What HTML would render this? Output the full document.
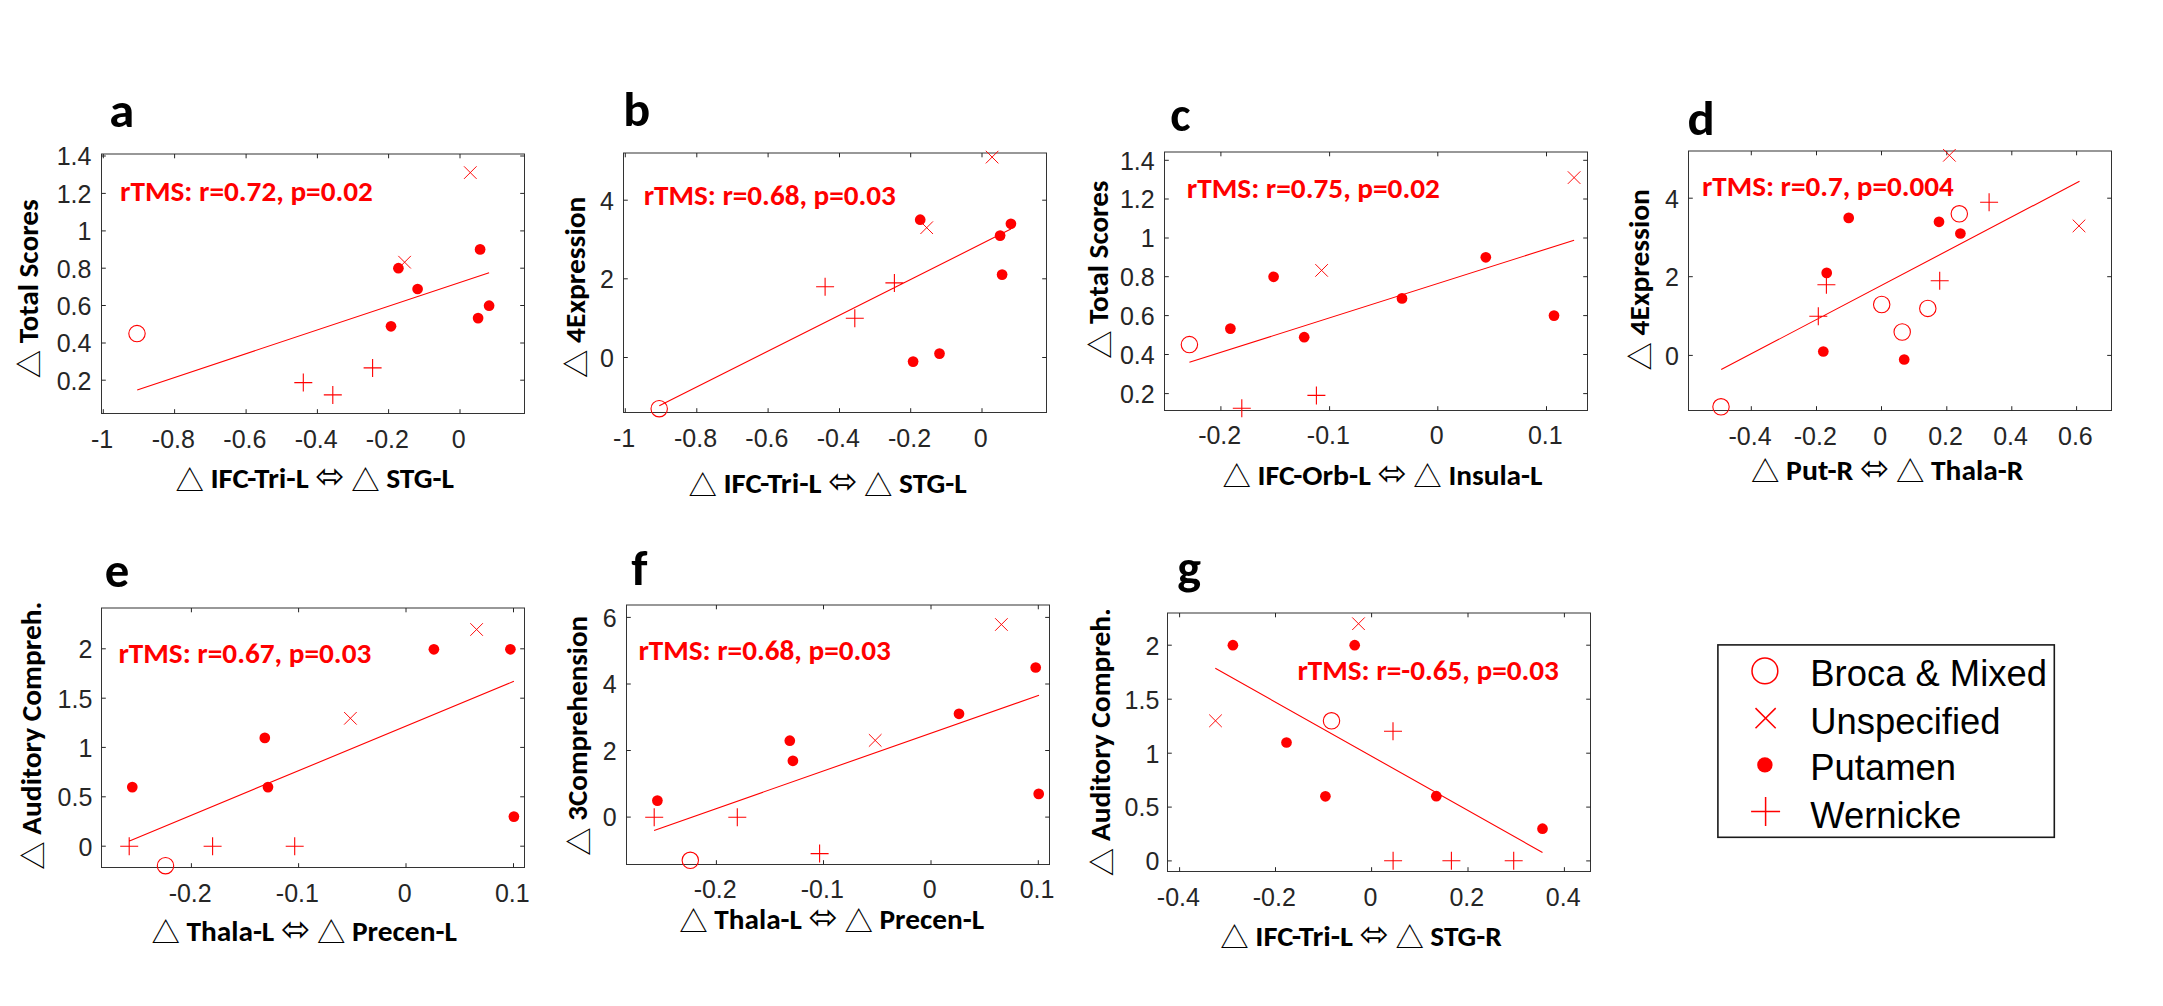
<!DOCTYPE html>
<html><head><meta charset="utf-8"><title>Figure</title>
<style>html,body{margin:0;padding:0;background:#fff;}svg{display:block;}</style></head>
<body><svg width="2163" height="1006" viewBox="0 0 2163 1006">
<rect width="2163" height="1006" fill="#fff"/>
<!-- panel a -->
<rect x="101.5" y="154" width="423" height="259.5" fill="none" stroke="#333333" stroke-width="1"/>
<path d="M103.3 413.5v-4.3M103.3 154v4.3M174.6 413.5v-4.3M174.6 154v4.3M246.1 413.5v-4.3M246.1 154v4.3M317.4 413.5v-4.3M317.4 154v4.3M388.6 413.5v-4.3M388.6 154v4.3M460 413.5v-4.3M460 154v4.3M101.5 156h4.3M524.5 156h-4.3M101.5 193.4h4.3M524.5 193.4h-4.3M101.5 230.9h4.3M524.5 230.9h-4.3M101.5 268.2h4.3M524.5 268.2h-4.3M101.5 305.5h4.3M524.5 305.5h-4.3M101.5 343h4.3M524.5 343h-4.3M101.5 380.2h4.3M524.5 380.2h-4.3" stroke="#262626" stroke-width="1" fill="none"/>
<g font-family="'Liberation Sans', Arial, sans-serif" font-size="25.0" fill="#262626"><text x="102.1" y="448" text-anchor="middle">-1</text><text x="173.4" y="448" text-anchor="middle">-0.8</text><text x="244.9" y="448" text-anchor="middle">-0.6</text><text x="316.2" y="448" text-anchor="middle">-0.4</text><text x="387.4" y="448" text-anchor="middle">-0.2</text><text x="458.8" y="448" text-anchor="middle">0</text><text x="91.43" y="165.3" text-anchor="end">1.4</text><text x="91.43" y="202.7" text-anchor="end">1.2</text><text x="91.43" y="240.2" text-anchor="end">1</text><text x="91.43" y="277.5" text-anchor="end">0.8</text><text x="91.43" y="314.8" text-anchor="end">0.6</text><text x="91.43" y="352.3" text-anchor="end">0.4</text><text x="91.43" y="389.5" text-anchor="end">0.2</text></g>
<g fill="none" stroke="#ff0000" stroke-width="1.1"><circle cx="137" cy="333.6" r="8.2"/><path d="M294.3 382.6H312.3M303.3 373.6V391.6M363.6 367.9H381.6M372.6 358.9V376.9M323.8 394.9H341.8M332.8 385.9V403.9M137.2 389.9L489.1 272.7"/><path d="M464 166.3L476.6 178.9M464 178.9L476.6 166.3M398.3 255.9L410.9 268.5M398.3 268.5L410.9 255.9" stroke-width="0.95"/></g>
<g fill="#ff0000"><circle cx="398.4" cy="268.2" r="5.35"/><circle cx="480.1" cy="249.4" r="5.35"/><circle cx="417.6" cy="289" r="5.35"/><circle cx="391" cy="326.3" r="5.35"/><circle cx="489.1" cy="305.7" r="5.35"/><circle cx="478.1" cy="318.1" r="5.35"/></g>
<g fill="#ff0000" font-family="Carlito, Calibri, 'Liberation Sans', sans-serif" font-weight="bold"><text x="120.13" y="200.9" font-size="27.5" textLength="252.78" lengthAdjust="spacingAndGlyphs">rTMS: r=0.72, p=0.02</text></g>
<g fill="#000" font-family="Carlito, Calibri, 'Liberation Sans', sans-serif" font-weight="bold"><text x="109.39" y="126.8" font-size="48.5" textLength="25.03" lengthAdjust="spacingAndGlyphs">a</text></g>
<g fill="#000"><text x="175.45" y="490.6" font-family="'Noto Sans CJK SC', 'Noto Sans CJK JP', 'WenQuanYi Zen Hei', sans-serif" font-size="28.4">△</text><text x="210.41" y="488" font-family="Carlito, Calibri, 'Liberation Sans', sans-serif" font-weight="bold" font-size="27.6" textLength="98.35" lengthAdjust="spacingAndGlyphs">IFC-Tri-L</text><text x="315.33" y="488" font-family="'DejaVu Sans', sans-serif" font-size="35.0">⬄</text><text x="351.23" y="490.6" font-family="'Noto Sans CJK SC', 'Noto Sans CJK JP', 'WenQuanYi Zen Hei', sans-serif" font-size="28.4">△</text><text x="386.19" y="488" font-family="Carlito, Calibri, 'Liberation Sans', sans-serif" font-weight="bold" font-size="27.6" textLength="67.79" lengthAdjust="spacingAndGlyphs">STG-L</text></g>
<g fill="#000" transform="translate(37.5 0) rotate(-90)"><text x="-378.25" y="2.4" font-family="'Noto Sans CJK SC', 'Noto Sans CJK JP', 'WenQuanYi Zen Hei', sans-serif" font-size="28.4">△</text><text x="-343.38" y="0" font-family="Carlito, Calibri, 'Liberation Sans', sans-serif" font-weight="bold" font-size="27.6" textLength="144.1" lengthAdjust="spacingAndGlyphs">Total Scores</text></g>
<!-- panel b -->
<rect x="623.5" y="153" width="423" height="259.5" fill="none" stroke="#333333" stroke-width="1"/>
<path d="M625.3 412.5v-4.3M625.3 153v4.3M696.8 412.5v-4.3M696.8 153v4.3M768.1 412.5v-4.3M768.1 153v4.3M839.5 412.5v-4.3M839.5 153v4.3M910.7 412.5v-4.3M910.7 153v4.3M982 412.5v-4.3M982 153v4.3M623.5 200.2h4.3M1046.5 200.2h-4.3M623.5 278.8h4.3M1046.5 278.8h-4.3M623.5 357.5h4.3M1046.5 357.5h-4.3" stroke="#262626" stroke-width="1" fill="none"/>
<g font-family="'Liberation Sans', Arial, sans-serif" font-size="25.0" fill="#262626"><text x="624.1" y="446.8" text-anchor="middle">-1</text><text x="695.6" y="446.8" text-anchor="middle">-0.8</text><text x="766.9" y="446.8" text-anchor="middle">-0.6</text><text x="838.3" y="446.8" text-anchor="middle">-0.4</text><text x="909.5" y="446.8" text-anchor="middle">-0.2</text><text x="980.8" y="446.8" text-anchor="middle">0</text><text x="613.93" y="209.5" text-anchor="end">4</text><text x="613.93" y="288.1" text-anchor="end">2</text><text x="613.93" y="366.8" text-anchor="end">0</text></g>
<g fill="none" stroke="#ff0000" stroke-width="1.1"><circle cx="659.2" cy="408.7" r="8.2"/><path d="M816.1 286.8H834.1M825.1 277.8V295.8M885.4 282.9H903.4M894.4 273.9V291.9M845.8 318.3H863.8M854.8 309.3V327.3M659.3 405.8L1010.9 229.1"/><path d="M985.8 150.8L998.4 163.4M985.8 163.4L998.4 150.8M920.4 221.4L933 234M920.4 234L933 221.4" stroke-width="0.95"/></g>
<g fill="#ff0000"><circle cx="920.2" cy="219.7" r="5.35"/><circle cx="1010.9" cy="223.8" r="5.35"/><circle cx="1000.1" cy="235.6" r="5.35"/><circle cx="1002.1" cy="274.6" r="5.35"/><circle cx="913.1" cy="361.6" r="5.35"/><circle cx="939.5" cy="353.6" r="5.35"/></g>
<g fill="#ff0000" font-family="Carlito, Calibri, 'Liberation Sans', sans-serif" font-weight="bold"><text x="643.73" y="204.7" font-size="27.5" textLength="252.18" lengthAdjust="spacingAndGlyphs">rTMS: r=0.68, p=0.03</text></g>
<g fill="#000" font-family="Carlito, Calibri, 'Liberation Sans', sans-serif" font-weight="bold"><text x="623.35" y="126.3" font-size="48.5" textLength="26.99" lengthAdjust="spacingAndGlyphs">b</text></g>
<g fill="#000"><text x="688.45" y="496" font-family="'Noto Sans CJK SC', 'Noto Sans CJK JP', 'WenQuanYi Zen Hei', sans-serif" font-size="28.4">△</text><text x="723.4" y="493.4" font-family="Carlito, Calibri, 'Liberation Sans', sans-serif" font-weight="bold" font-size="27.6" textLength="98.2" lengthAdjust="spacingAndGlyphs">IFC-Tri-L</text><text x="828.16" y="493.4" font-family="'DejaVu Sans', sans-serif" font-size="35.0">⬄</text><text x="864.04" y="496" font-family="'Noto Sans CJK SC', 'Noto Sans CJK JP', 'WenQuanYi Zen Hei', sans-serif" font-size="28.4">△</text><text x="899" y="493.4" font-family="Carlito, Calibri, 'Liberation Sans', sans-serif" font-weight="bold" font-size="27.6" textLength="67.68" lengthAdjust="spacingAndGlyphs">STG-L</text></g>
<g fill="#000" transform="translate(584.8 0) rotate(-90)"><text x="-377.95" y="2.4" font-family="'Noto Sans CJK SC', 'Noto Sans CJK JP', 'WenQuanYi Zen Hei', sans-serif" font-size="28.4">△</text><text x="-342.9" y="0" font-family="Carlito, Calibri, 'Liberation Sans', sans-serif" font-weight="bold" font-size="27.6" textLength="146.23" lengthAdjust="spacingAndGlyphs">4Expression</text></g>
<!-- panel c -->
<rect x="1164.5" y="152" width="423" height="258.5" fill="none" stroke="#333333" stroke-width="1"/>
<path d="M1220.9 410.5v-4.3M1220.9 152v4.3M1329.6 410.5v-4.3M1329.6 152v4.3M1437.8 410.5v-4.3M1437.8 152v4.3M1546.5 410.5v-4.3M1546.5 152v4.3M1164.5 160.3h4.3M1587.5 160.3h-4.3M1164.5 199h4.3M1587.5 199h-4.3M1164.5 238h4.3M1587.5 238h-4.3M1164.5 276.7h4.3M1587.5 276.7h-4.3M1164.5 315.6h4.3M1587.5 315.6h-4.3M1164.5 354.5h4.3M1587.5 354.5h-4.3M1164.5 393.6h4.3M1587.5 393.6h-4.3" stroke="#262626" stroke-width="1" fill="none"/>
<g font-family="'Liberation Sans', Arial, sans-serif" font-size="25.0" fill="#262626"><text x="1219.7" y="444.1" text-anchor="middle">-0.2</text><text x="1328.4" y="444.1" text-anchor="middle">-0.1</text><text x="1436.6" y="444.1" text-anchor="middle">0</text><text x="1545.3" y="444.1" text-anchor="middle">0.1</text><text x="1154.73" y="169.6" text-anchor="end">1.4</text><text x="1154.73" y="208.3" text-anchor="end">1.2</text><text x="1154.73" y="247.3" text-anchor="end">1</text><text x="1154.73" y="286" text-anchor="end">0.8</text><text x="1154.73" y="324.9" text-anchor="end">0.6</text><text x="1154.73" y="363.8" text-anchor="end">0.4</text><text x="1154.73" y="402.9" text-anchor="end">0.2</text></g>
<g fill="none" stroke="#ff0000" stroke-width="1.1"><circle cx="1189.4" cy="344.6" r="8.2"/><path d="M1307.4 395.4H1325.4M1316.4 386.4V404.4M1232.8 408.3H1250.8M1241.8 399.3V417.3M1189.4 362.3L1574.1 240.2"/><path d="M1567.8 171.3L1580.4 183.9M1567.8 183.9L1580.4 171.3M1315.3 264.1L1327.9 276.7M1315.3 276.7L1327.9 264.1" stroke-width="0.95"/></g>
<g fill="#ff0000"><circle cx="1273.6" cy="276.8" r="5.35"/><circle cx="1485.8" cy="257.3" r="5.35"/><circle cx="1230.4" cy="328.6" r="5.35"/><circle cx="1304.2" cy="337.2" r="5.35"/><circle cx="1402" cy="298.4" r="5.35"/><circle cx="1554" cy="315.6" r="5.35"/></g>
<g fill="#ff0000" font-family="Carlito, Calibri, 'Liberation Sans', sans-serif" font-weight="bold"><text x="1186.83" y="197.8" font-size="27.5" textLength="253.09" lengthAdjust="spacingAndGlyphs">rTMS: r=0.75, p=0.02</text></g>
<g fill="#000" font-family="Carlito, Calibri, 'Liberation Sans', sans-serif" font-weight="bold"><text x="1170.2" y="130.5" font-size="48.5" textLength="20.3" lengthAdjust="spacingAndGlyphs">c</text></g>
<g fill="#000"><text x="1222.55" y="487.1" font-family="'Noto Sans CJK SC', 'Noto Sans CJK JP', 'WenQuanYi Zen Hei', sans-serif" font-size="28.4">△</text><text x="1257.58" y="484.5" font-family="Carlito, Calibri, 'Liberation Sans', sans-serif" font-weight="bold" font-size="27.6" textLength="113.2" lengthAdjust="spacingAndGlyphs">IFC-Orb-L</text><text x="1377.41" y="484.5" font-family="'DejaVu Sans', sans-serif" font-size="35.0">⬄</text><text x="1413.37" y="487.1" font-family="'Noto Sans CJK SC', 'Noto Sans CJK JP', 'WenQuanYi Zen Hei', sans-serif" font-size="28.4">△</text><text x="1448.4" y="484.5" font-family="Carlito, Calibri, 'Liberation Sans', sans-serif" font-weight="bold" font-size="27.6" textLength="94.09" lengthAdjust="spacingAndGlyphs">Insula-L</text></g>
<g fill="#000" transform="translate(1108.3 0) rotate(-90)"><text x="-358.75" y="2.4" font-family="'Noto Sans CJK SC', 'Noto Sans CJK JP', 'WenQuanYi Zen Hei', sans-serif" font-size="28.4">△</text><text x="-323.91" y="0" font-family="Carlito, Calibri, 'Liberation Sans', sans-serif" font-weight="bold" font-size="27.6" textLength="143.33" lengthAdjust="spacingAndGlyphs">Total Scores</text></g>
<!-- panel d -->
<rect x="1688.5" y="151" width="423" height="259.5" fill="none" stroke="#333333" stroke-width="1"/>
<path d="M1751.3 410.5v-4.3M1751.3 151v4.3M1816.5 410.5v-4.3M1816.5 151v4.3M1881.5 410.5v-4.3M1881.5 151v4.3M1946.8 410.5v-4.3M1946.8 151v4.3M2011.8 410.5v-4.3M2011.8 151v4.3M2076.6 410.5v-4.3M2076.6 151v4.3M1688.5 198.2h4.3M2111.5 198.2h-4.3M1688.5 276.7h4.3M2111.5 276.7h-4.3M1688.5 355.4h4.3M2111.5 355.4h-4.3" stroke="#262626" stroke-width="1" fill="none"/>
<g font-family="'Liberation Sans', Arial, sans-serif" font-size="25.0" fill="#262626"><text x="1750.1" y="444.5" text-anchor="middle">-0.4</text><text x="1815.3" y="444.5" text-anchor="middle">-0.2</text><text x="1880.3" y="444.5" text-anchor="middle">0</text><text x="1945.6" y="444.5" text-anchor="middle">0.2</text><text x="2010.6" y="444.5" text-anchor="middle">0.4</text><text x="2075.4" y="444.5" text-anchor="middle">0.6</text><text x="1678.93" y="207.5" text-anchor="end">4</text><text x="1678.93" y="286" text-anchor="end">2</text><text x="1678.93" y="364.7" text-anchor="end">0</text></g>
<g fill="none" stroke="#ff0000" stroke-width="1.1"><circle cx="1721" cy="406.8" r="8.2"/><circle cx="1881.7" cy="304.5" r="8.2"/><circle cx="1927.8" cy="308.4" r="8.2"/><circle cx="1902.2" cy="332" r="8.2"/><circle cx="1959.3" cy="213.8" r="8.2"/><path d="M1817.4 284.7H1835.4M1826.4 275.7V293.7M1809.3 316.3H1827.3M1818.3 307.3V325.3M1930.7 280.8H1948.7M1939.7 271.8V289.8M1980.1 202.2H1998.1M1989.1 193.2V211.2M1721.2 369.6L2079.5 181.3"/><path d="M1943.1 149L1955.7 161.6M1943.1 161.6L1955.7 149M2072.7 219.6L2085.3 232.2M2072.7 232.2L2085.3 219.6" stroke-width="0.95"/></g>
<g fill="#ff0000"><circle cx="1848.7" cy="217.9" r="5.35"/><circle cx="1826.7" cy="272.9" r="5.35"/><circle cx="1823.3" cy="351.5" r="5.35"/><circle cx="1904.2" cy="359.5" r="5.35"/><circle cx="1939" cy="221.8" r="5.35"/><circle cx="1960.4" cy="233.5" r="5.35"/></g>
<g fill="#ff0000" font-family="Carlito, Calibri, 'Liberation Sans', sans-serif" font-weight="bold"><text x="1701.94" y="195.7" font-size="27.5" textLength="251.8" lengthAdjust="spacingAndGlyphs">rTMS: r=0.7, p=0.004</text></g>
<g fill="#000" font-family="Carlito, Calibri, 'Liberation Sans', sans-serif" font-weight="bold"><text x="1687.64" y="134.6" font-size="48.5" textLength="27.23" lengthAdjust="spacingAndGlyphs">d</text></g>
<g fill="#000"><text x="1751.05" y="482.4" font-family="'Noto Sans CJK SC', 'Noto Sans CJK JP', 'WenQuanYi Zen Hei', sans-serif" font-size="28.4">△</text><text x="1786.1" y="479.8" font-family="Carlito, Calibri, 'Liberation Sans', sans-serif" font-weight="bold" font-size="27.6" textLength="67.25" lengthAdjust="spacingAndGlyphs">Put-R</text><text x="1860.01" y="479.8" font-family="'DejaVu Sans', sans-serif" font-size="35.0">⬄</text><text x="1895.99" y="482.4" font-family="'Noto Sans CJK SC', 'Noto Sans CJK JP', 'WenQuanYi Zen Hei', sans-serif" font-size="28.4">△</text><text x="1931.04" y="479.8" font-family="Carlito, Calibri, 'Liberation Sans', sans-serif" font-weight="bold" font-size="27.6" textLength="92.24" lengthAdjust="spacingAndGlyphs">Thala-R</text></g>
<g fill="#000" transform="translate(1648.9 0) rotate(-90)"><text x="-370.45" y="2.4" font-family="'Noto Sans CJK SC', 'Noto Sans CJK JP', 'WenQuanYi Zen Hei', sans-serif" font-size="28.4">△</text><text x="-335.4" y="0" font-family="Carlito, Calibri, 'Liberation Sans', sans-serif" font-weight="bold" font-size="27.6" textLength="146.23" lengthAdjust="spacingAndGlyphs">4Expression</text></g>
<!-- panel e -->
<rect x="101.5" y="608" width="423" height="259.5" fill="none" stroke="#333333" stroke-width="1"/>
<path d="M191.4 867.5v-4.3M191.4 608v4.3M298.6 867.5v-4.3M298.6 608v4.3M406 867.5v-4.3M406 608v4.3M513.5 867.5v-4.3M513.5 608v4.3M101.5 648.8h4.3M524.5 648.8h-4.3M101.5 698.2h4.3M524.5 698.2h-4.3M101.5 747.4h4.3M524.5 747.4h-4.3M101.5 796.8h4.3M524.5 796.8h-4.3M101.5 846.2h4.3M524.5 846.2h-4.3" stroke="#262626" stroke-width="1" fill="none"/>
<g font-family="'Liberation Sans', Arial, sans-serif" font-size="25.0" fill="#262626"><text x="190.2" y="901.7" text-anchor="middle">-0.2</text><text x="297.4" y="901.7" text-anchor="middle">-0.1</text><text x="404.8" y="901.7" text-anchor="middle">0</text><text x="512.3" y="901.7" text-anchor="middle">0.1</text><text x="92.36" y="658.1" text-anchor="end">2</text><text x="92.36" y="707.5" text-anchor="end">1.5</text><text x="92.36" y="756.7" text-anchor="end">1</text><text x="92.36" y="806.1" text-anchor="end">0.5</text><text x="92.36" y="855.5" text-anchor="end">0</text></g>
<g fill="none" stroke="#ff0000" stroke-width="1.1"><circle cx="165.5" cy="865.7" r="8.2"/><path d="M120.2 846.2H138.2M129.2 837.2V855.2M203.6 846.2H221.6M212.6 837.2V855.2M285.7 846.2H303.7M294.7 837.2V855.2M129.5 840.9L513.9 681.3"/><path d="M470.3 623.2L482.9 635.8M470.3 635.8L482.9 623.2M344.1 712L356.7 724.6M344.1 724.6L356.7 712" stroke-width="0.95"/></g>
<g fill="#ff0000"><circle cx="433.9" cy="649.3" r="5.35"/><circle cx="510.4" cy="649.3" r="5.35"/><circle cx="264.8" cy="737.9" r="5.35"/><circle cx="132.3" cy="787.1" r="5.35"/><circle cx="268" cy="787.1" r="5.35"/><circle cx="513.9" cy="816.6" r="5.35"/></g>
<g fill="#ff0000" font-family="Carlito, Calibri, 'Liberation Sans', sans-serif" font-weight="bold"><text x="118.43" y="662.9" font-size="27.5" textLength="252.88" lengthAdjust="spacingAndGlyphs">rTMS: r=0.67, p=0.03</text></g>
<g fill="#000" font-family="Carlito, Calibri, 'Liberation Sans', sans-serif" font-weight="bold"><text x="104.7" y="587.4" font-size="48.5" textLength="24.58" lengthAdjust="spacingAndGlyphs">e</text></g>
<g fill="#000"><text x="151.45" y="943.2" font-family="'Noto Sans CJK SC', 'Noto Sans CJK JP', 'WenQuanYi Zen Hei', sans-serif" font-size="28.4">△</text><text x="186.48" y="940.6" font-family="Carlito, Calibri, 'Liberation Sans', sans-serif" font-weight="bold" font-size="27.6" textLength="87.81" lengthAdjust="spacingAndGlyphs">Thala-L</text><text x="280.92" y="940.6" font-family="'DejaVu Sans', sans-serif" font-size="35.0">⬄</text><text x="316.88" y="943.2" font-family="'Noto Sans CJK SC', 'Noto Sans CJK JP', 'WenQuanYi Zen Hei', sans-serif" font-size="28.4">△</text><text x="351.91" y="940.6" font-family="Carlito, Calibri, 'Liberation Sans', sans-serif" font-weight="bold" font-size="27.6" textLength="104.97" lengthAdjust="spacingAndGlyphs">Precen-L</text></g>
<g fill="#000" transform="translate(41.3 0) rotate(-90)"><text x="-869.75" y="2.4" font-family="'Noto Sans CJK SC', 'Noto Sans CJK JP', 'WenQuanYi Zen Hei', sans-serif" font-size="28.4">△</text><text x="-834.72" y="0" font-family="Carlito, Calibri, 'Liberation Sans', sans-serif" font-weight="bold" font-size="27.6" textLength="233.05" lengthAdjust="spacingAndGlyphs">Auditory Compreh.</text></g>
<!-- panel f -->
<rect x="626.5" y="605" width="423" height="259.5" fill="none" stroke="#333333" stroke-width="1"/>
<path d="M716.4 864.5v-4.3M716.4 605v4.3M823.5 864.5v-4.3M823.5 605v4.3M931 864.5v-4.3M931 605v4.3M1038.3 864.5v-4.3M1038.3 605v4.3M626.5 617.4h4.3M1049.5 617.4h-4.3M626.5 684h4.3M1049.5 684h-4.3M626.5 750.5h4.3M1049.5 750.5h-4.3M626.5 817.1h4.3M1049.5 817.1h-4.3" stroke="#262626" stroke-width="1" fill="none"/>
<g font-family="'Liberation Sans', Arial, sans-serif" font-size="25.0" fill="#262626"><text x="715.2" y="898.4" text-anchor="middle">-0.2</text><text x="822.3" y="898.4" text-anchor="middle">-0.1</text><text x="929.8" y="898.4" text-anchor="middle">0</text><text x="1037.1" y="898.4" text-anchor="middle">0.1</text><text x="616.7" y="626.7" text-anchor="end">6</text><text x="616.7" y="693.3" text-anchor="end">4</text><text x="616.7" y="759.8" text-anchor="end">2</text><text x="616.7" y="826.4" text-anchor="end">0</text></g>
<g fill="none" stroke="#ff0000" stroke-width="1.1"><circle cx="690.3" cy="860.3" r="8.2"/><path d="M645.2 817.2H663.2M654.2 808.2V826.2M728.3 817.2H746.3M737.3 808.2V826.2M810.6 853.6H828.6M819.6 844.6V862.6M654.1 830.4L1039 695.3"/><path d="M995.1 618.2L1007.7 630.8M995.1 630.8L1007.7 618.2M868.9 734.1L881.5 746.7M868.9 746.7L881.5 734.1" stroke-width="0.95"/></g>
<g fill="#ff0000"><circle cx="1035.7" cy="667.5" r="5.35"/><circle cx="959" cy="713.8" r="5.35"/><circle cx="789.8" cy="740.7" r="5.35"/><circle cx="792.9" cy="760.8" r="5.35"/><circle cx="657.4" cy="800.6" r="5.35"/><circle cx="1038.7" cy="793.9" r="5.35"/></g>
<g fill="#ff0000" font-family="Carlito, Calibri, 'Liberation Sans', sans-serif" font-weight="bold"><text x="638.43" y="659.6" font-size="27.5" textLength="252.48" lengthAdjust="spacingAndGlyphs">rTMS: r=0.68, p=0.03</text></g>
<g fill="#000" font-family="Carlito, Calibri, 'Liberation Sans', sans-serif" font-weight="bold"><text x="631.2" y="584.8" font-size="48.5" textLength="16.27" lengthAdjust="spacingAndGlyphs">f</text></g>
<g fill="#000"><text x="679.35" y="932" font-family="'Noto Sans CJK SC', 'Noto Sans CJK JP', 'WenQuanYi Zen Hei', sans-serif" font-size="28.4">△</text><text x="714.36" y="929.4" font-family="Carlito, Calibri, 'Liberation Sans', sans-serif" font-weight="bold" font-size="27.6" textLength="87.57" lengthAdjust="spacingAndGlyphs">Thala-L</text><text x="808.55" y="929.4" font-family="'DejaVu Sans', sans-serif" font-size="35.0">⬄</text><text x="844.49" y="932" font-family="'Noto Sans CJK SC', 'Noto Sans CJK JP', 'WenQuanYi Zen Hei', sans-serif" font-size="28.4">△</text><text x="879.5" y="929.4" font-family="Carlito, Calibri, 'Liberation Sans', sans-serif" font-weight="bold" font-size="27.6" textLength="104.68" lengthAdjust="spacingAndGlyphs">Precen-L</text></g>
<g fill="#000" transform="translate(587.3 0) rotate(-90)"><text x="-855.65" y="2.4" font-family="'Noto Sans CJK SC', 'Noto Sans CJK JP', 'WenQuanYi Zen Hei', sans-serif" font-size="28.4">△</text><text x="-820.71" y="0" font-family="Carlito, Calibri, 'Liberation Sans', sans-serif" font-weight="bold" font-size="27.6" textLength="204.82" lengthAdjust="spacingAndGlyphs">3Comprehension</text></g>
<!-- panel g -->
<rect x="1167.5" y="613" width="423" height="258.5" fill="none" stroke="#333333" stroke-width="1"/>
<path d="M1179.6 871.5v-4.3M1179.6 613v4.3M1275.5 871.5v-4.3M1275.5 613v4.3M1371.6 871.5v-4.3M1371.6 613v4.3M1468 871.5v-4.3M1468 613v4.3M1564.4 871.5v-4.3M1564.4 613v4.3M1167.5 645.2h4.3M1590.5 645.2h-4.3M1167.5 699.2h4.3M1590.5 699.2h-4.3M1167.5 753.2h4.3M1590.5 753.2h-4.3M1167.5 807.1h4.3M1590.5 807.1h-4.3M1167.5 860.9h4.3M1590.5 860.9h-4.3" stroke="#262626" stroke-width="1" fill="none"/>
<g font-family="'Liberation Sans', Arial, sans-serif" font-size="25.0" fill="#262626"><text x="1178.4" y="905.5" text-anchor="middle">-0.4</text><text x="1274.3" y="905.5" text-anchor="middle">-0.2</text><text x="1370.4" y="905.5" text-anchor="middle">0</text><text x="1466.8" y="905.5" text-anchor="middle">0.2</text><text x="1563.2" y="905.5" text-anchor="middle">0.4</text><text x="1159.36" y="654.5" text-anchor="end">2</text><text x="1159.36" y="708.5" text-anchor="end">1.5</text><text x="1159.36" y="762.5" text-anchor="end">1</text><text x="1159.36" y="816.4" text-anchor="end">0.5</text><text x="1159.36" y="870.2" text-anchor="end">0</text></g>
<g fill="none" stroke="#ff0000" stroke-width="1.1"><circle cx="1331.5" cy="720.8" r="8.2"/><path d="M1384 731.2H1402M1393 722.2V740.2M1384.1 860.8H1402.1M1393.1 851.8V869.8M1442.4 860.8H1460.4M1451.4 851.8V869.8M1504.7 860.8H1522.7M1513.7 851.8V869.8M1215.3 668.2L1542.5 852.5"/><path d="M1352.2 617.4L1364.8 630M1352.2 630L1364.8 617.4M1209.2 714.5L1221.8 727.1M1209.2 727.1L1221.8 714.5" stroke-width="0.95"/></g>
<g fill="#ff0000"><circle cx="1232.9" cy="645.2" r="5.35"/><circle cx="1354.7" cy="645.2" r="5.35"/><circle cx="1286.5" cy="742.5" r="5.35"/><circle cx="1325.4" cy="796.3" r="5.35"/><circle cx="1436.3" cy="796.2" r="5.35"/><circle cx="1542.5" cy="828.7" r="5.35"/></g>
<g fill="#ff0000" font-family="Carlito, Calibri, 'Liberation Sans', sans-serif" font-weight="bold"><text x="1297.43" y="680" font-size="27.5" textLength="261.48" lengthAdjust="spacingAndGlyphs">rTMS: r=-0.65, p=0.03</text></g>
<g fill="#000" font-family="Carlito, Calibri, 'Liberation Sans', sans-serif" font-weight="bold"><text x="1177.15" y="584.2" font-size="48.5" textLength="23.79" lengthAdjust="spacingAndGlyphs">g</text></g>
<g fill="#000"><text x="1220.35" y="948.1" font-family="'Noto Sans CJK SC', 'Noto Sans CJK JP', 'WenQuanYi Zen Hei', sans-serif" font-size="28.4">△</text><text x="1255.28" y="945.5" font-family="Carlito, Calibri, 'Liberation Sans', sans-serif" font-weight="bold" font-size="27.6" textLength="97.77" lengthAdjust="spacingAndGlyphs">IFC-Tri-L</text><text x="1359.57" y="945.5" font-family="'DejaVu Sans', sans-serif" font-size="35.0">⬄</text><text x="1395.42" y="948.1" font-family="'Noto Sans CJK SC', 'Noto Sans CJK JP', 'WenQuanYi Zen Hei', sans-serif" font-size="28.4">△</text><text x="1430.35" y="945.5" font-family="Carlito, Calibri, 'Liberation Sans', sans-serif" font-weight="bold" font-size="27.6" textLength="71.43" lengthAdjust="spacingAndGlyphs">STG-R</text></g>
<g fill="#000" transform="translate(1110.4 0) rotate(-90)"><text x="-876.15" y="2.4" font-family="'Noto Sans CJK SC', 'Noto Sans CJK JP', 'WenQuanYi Zen Hei', sans-serif" font-size="28.4">△</text><text x="-841.12" y="0" font-family="Carlito, Calibri, 'Liberation Sans', sans-serif" font-weight="bold" font-size="27.6" textLength="232.95" lengthAdjust="spacingAndGlyphs">Auditory Compreh.</text></g>
<rect x="1717.9" y="644.9" width="336.4" height="192.4" fill="none" stroke="#1a1a1a" stroke-width="1.6"/>
<g fill="none" stroke="#ff0000" stroke-width="1.5"><circle cx="1764.9" cy="670.9" r="12.9"/><path d="M1755.5 708.1L1775.7 728.3M1755.5 728.3L1775.7 708.1M1751.1 811.5H1780.1M1765.6 797V826"/></g>
<circle cx="1764.9" cy="764.9" r="7.7" fill="#ff0000"/>
<g font-family="'Liberation Sans', Arial, sans-serif" font-size="36.4" fill="#000"><text x="1810.32" y="685.8">Broca &amp; Mixed</text><text x="1810.32" y="733.6">Unspecified</text><text x="1810.32" y="780.4">Putamen</text><text x="1810.32" y="827.6">Wernicke</text></g>
</svg></body></html>
